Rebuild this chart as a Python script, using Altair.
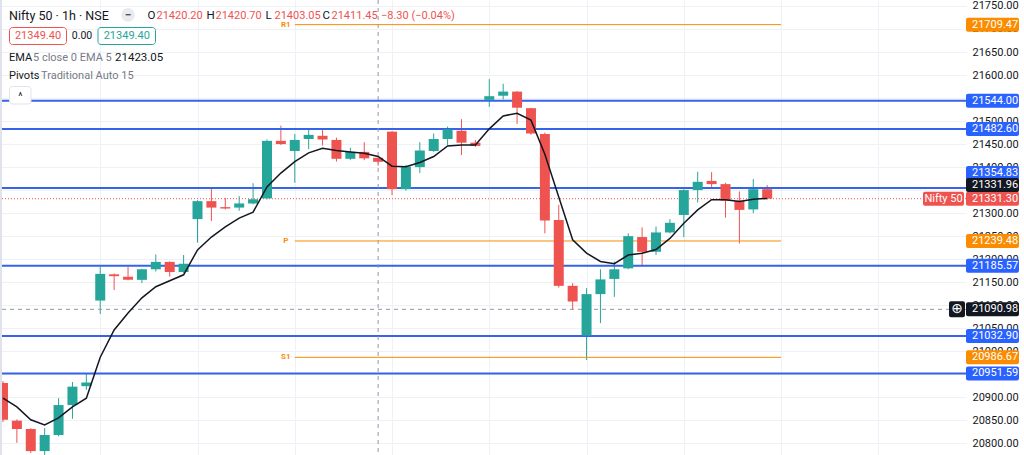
import altair as alt
import pandas as pd

# ---------------- data ----------------
bar_index = list(range(-1, 55))
opens = [20931, 20849, 20831, 20783, 20818, 20883, 20924, 21110, 21167, 21162,
         21155, 21178, 21194, 21172, 21287, 21326, 21313, 21312, 21321, 21332,
         21457, 21435, 21461, 21468, 21459, 21418, 21433, 21420.20, 21477, 21352,
         21400, 21435, 21461, 21479, 21453, 21546, 21555, 21564, 21528, 21472,
         21285, 21142, 21034, 21124, 21157, 21180, 21248, 21216, 21258, 21296,
         21350, 21370, 21363, 21327, 21308, 21352]
highs = [20935, 20852, 20833, 20833, 20898, 20933, 20950, 21183, 21169, 21183,
         21179, 21210, 21195, 21209, 21328, 21354, 21333, 21337, 21365, 21460,
         21490, 21472, 21481, 21481, 21464, 21442, 21454, 21420.70, 21478, 21405,
         21454, 21473, 21488, 21504, 21459, 21591, 21581, 21565, 21529, 21475,
         21318, 21148, 21137, 21178, 21195, 21256, 21269, 21271, 21287, 21352,
         21390, 21389, 21366, 21347, 21374, 21361]
lows = [20846, 20801, 20779, 20768, 20815, 20853, 20916, 21081, 21133, 21154,
        21148, 21173, 21162, 21170, 21236, 21283, 21308, 21305, 21319, 21330,
        21448, 21366, 21439, 21447, 21412, 21415, 21415, 21403.05, 21339, 21349,
        21387, 21433, 21448, 21426, 21444, 21531, 21547, 21494, 21470, 21256,
        21138, 21090, 20981, 21061, 21118, 21178, 21184, 21209, 21256, 21248,
        21323, 21357, 21290, 21234, 21300, 21330]
closes = [20851, 20831, 20783, 20818, 20883, 20923, 20932, 21168, 21163, 21155,
          21178, 21194, 21172, 21190, 21326, 21312, 21310, 21321, 21330, 21457,
          21450, 21459, 21470, 21460, 21418, 21433, 21419, 21411.45, 21352, 21401,
          21436, 21461, 21482, 21453, 21446, 21554, 21564, 21529, 21473, 21284,
          21142, 21108, 21124, 21156, 21178, 21250, 21216, 21258, 21279, 21350,
          21368, 21363, 21327, 21307, 21352, 21331.30]
ema5 = [20898, 20879, 20851, 20840, 20855, 20879, 20898, 20987, 21046, 21083,
        21116, 21140, 21153, 21166, 21220, 21248, 21270, 21289, 21302, 21357,
        21387, 21412, 21431, 21441, 21436, 21433, 21430, 21423.05, 21402, 21401,
        21410, 21423, 21446, 21448, 21448, 21483, 21511, 21517, 21502, 21428,
        21335, 21242, 21213, 21195, 21190, 21209, 21213, 21221, 21245, 21278,
        21307, 21329, 21329, 21325, 21330, 21331.96]

level_prices = [21544.00, 21482.60, 21354.83, 21185.57, 21032.90, 20951.59]
pivot_names = ["R1", "P", "S1"]
pivot_prices = [21709.47, 21239.48, 20986.67]
pivot_from, pivot_to = 20, 55
axis_ticks = [20800, 20850, 20900, 20950, 21000, 21050, 21100, 21150, 21200, 21250,
              21300, 21350, 21400, 21450, 21500, 21550, 21600, 21650, 21700, 21750]
grid_bars = [6, 13, 20, 27, 34, 41, 48, 55, 62]
last_price = 21331.30
ema_last = 21331.96
cross_bar = 26
cross_price = 21090.98
ohlc_letters = ["O", "H", "L", "C"]
ohlc_values = ["21420.20", "21420.70", "21403.05", "21411.45"]
change_text = "−8.30 (−0.04%)"
bid_text, spread_text, ask_text = "21349.40", "0.00", "21349.40"
ema_value_text = "21423.05"

# ---------------- styles ----------------
FONT = "Roboto"
UP, DOWN = "#26a69a", "#ef5350"
BLUE, ORANGE, INK, GRID = "#2962ff", "#fb8c00", "#131722", "#eef1f6"
LINE_BLUE = "#3563e9"
GRAY_TXT = "#787b86"

xs = alt.Scale(domain=[-0.855, 67.95], nice=False, zero=False)
ys = alt.Scale(domain=[20774.5, 21763.0], nice=False, zero=False)

X_AXIS = alt.Axis(values=grid_bars, grid=True, gridColor=GRID, labels=False, ticks=False,
                  domain=False, title=None)
Y_AXIS = alt.Axis(orient="right", values=axis_ticks, format=".2f", grid=True, gridColor=GRID,
                  ticks=False, domain=False, title=None, labelPadding=6, labelFont=FONT,
                  labelFontSize=11, labelColor=INK)


def X(field):
    return alt.X(field, scale=xs, axis=X_AXIS)


def Y(field):
    return alt.Y(field, scale=ys, axis=Y_AXIS)


df = pd.DataFrame(dict(i=bar_index, open=opens, high=highs, low=lows, close=closes, ema=ema5))
candle_color = alt.condition("datum.close >= datum.open", alt.value(UP), alt.value(DOWN))

wicks = alt.Chart(df).mark_rule(strokeWidth=1).encode(
    x=X("i:Q"), y=Y("low:Q"), y2="high:Q", color=candle_color)
bodies = alt.Chart(df).mark_bar(size=10).encode(
    x=X("i:Q"), y=Y("open:Q"), y2="close:Q", color=candle_color)
ema_line = alt.Chart(df).mark_line(color=INK, strokeWidth=1.5).encode(x=X("i:Q"), y=Y("ema:Q"))

levels_df = pd.DataFrame({"price": level_prices})
levels = alt.Chart(levels_df).mark_rule(color=LINE_BLUE, strokeWidth=2).encode(y=Y("price:Q"))

piv_df = pd.DataFrame({"name": pivot_names, "price": pivot_prices,
                       "a": [pivot_from] * 3, "b": [pivot_to] * 3})
piv_lines = alt.Chart(piv_df).mark_rule(color=ORANGE, strokeWidth=1).encode(
    x=X("a:Q"), x2="b:Q", y=Y("price:Q"))
piv_text = alt.Chart(piv_df).mark_text(color=ORANGE, font=FONT, fontSize=8, fontWeight="bold",
                                       align="center", baseline="middle", dx=-9).encode(
    x=X("a:Q"), y=Y("price:Q"), text="name:N")

last_df = pd.DataFrame({"price": [last_price]})
last_line = alt.Chart(last_df).mark_rule(color=DOWN, strokeWidth=1, strokeDash=[1, 2]).encode(
    y=Y("price:Q"))

cross_v = alt.Chart(pd.DataFrame({"i": [cross_bar]})).mark_rule(
    color="#9598a1", strokeWidth=1, strokeDash=[4, 4]).encode(x=X("i:Q"))
cross_h = alt.Chart(pd.DataFrame({"price": [cross_price]})).mark_rule(
    color="#9598a1", strokeWidth=1, strokeDash=[4, 4]).encode(y=Y("price:Q"))

# price labels on the axis
kind_scale = alt.Scale(domain=["pivot", "level", "ema", "cross", "last"],
                       range=[ORANGE, BLUE, INK, INK, DOWN])


def axis_tags(prices, kinds, shift=0):
    d = pd.DataFrame({"price": prices, "kind": kinds})
    box = alt.Chart(d).mark_rect(yOffset=-7 + shift, y2Offset=7 + shift, cornerRadius=2).encode(
        x=alt.value(966), x2=alt.value(1019),
        y=Y("price:Q"), y2="price:Q",
        color=alt.Color("kind:N", scale=kind_scale, legend=None))
    lab = alt.Chart(d).mark_text(align="left", baseline="middle", font=FONT, fontSize=11,
                                 color="white", dy=shift).encode(
        x=alt.value(972), y=Y("price:Q"),
        text=alt.Text("price:Q", format=".2f"))
    return [box, lab]


tags = []
tags += axis_tags(pivot_prices, ["pivot"] * 3)
tags += axis_tags([level_prices[0], level_prices[1], level_prices[3], level_prices[4], level_prices[5]],
                  ["level"] * 5)
tags += axis_tags([cross_price], ["cross"])
tags += axis_tags([last_price], ["last"])
tags += axis_tags([level_prices[2]], ["level"], shift=-15)
tags += axis_tags([ema_last], ["ema"], shift=-13.5)

# "Nifty 50" tag at the last price
nifty_box = alt.Chart(last_df).mark_rect(yOffset=-7, y2Offset=7, cornerRadius=2, color=DOWN).encode(
    x=alt.value(923), x2=alt.value(964), y=Y("price:Q"), y2="price:Q")
nifty_txt = alt.Chart(pd.DataFrame({"price": [last_price], "t": ["Nifty 50"]})).mark_text(
    align="center", baseline="middle", font=FONT, fontSize=11, color="white").encode(
    x=alt.value(943.5), y=Y("price:Q"), text="t:N")

cross_df = pd.DataFrame({"price": [cross_price], "t": ["⊕"]})
plus_box = alt.Chart(cross_df).mark_rect(yOffset=-8, y2Offset=8, cornerRadius=2, color=INK).encode(
    x=alt.value(949), x2=alt.value(965), y=Y("price:Q"), y2="price:Q")
plus_txt = alt.Chart(cross_df).mark_text(align="center", baseline="middle", fontSize=14,
                                         color="white", font="DejaVu Sans").encode(
    x=alt.value(957), y=Y("price:Q"), text="t:N")


# ---------------- header overlay ----------------
def txt(s, x, y, color, size=11, weight="normal", align="left", font=FONT):
    return alt.Chart(pd.DataFrame({"t": [s]})).mark_text(
        align=align, baseline="middle", font=font, fontSize=size, color=color,
        fontWeight=weight).encode(x=alt.value(x), y=alt.value(y), text="t:N")


def box(x, x2, y, y2, stroke, fill="white", r=3):
    return alt.Chart(pd.DataFrame({"k": [0]})).mark_rect(
        fill=fill, stroke=stroke, strokeWidth=1, cornerRadius=r).encode(
        x=alt.value(x), x2=alt.value(x2), y=alt.value(y), y2=alt.value(y2))


header = [
    txt("Nifty 50 · 1h · NSE", 9, 16, INK, size=12.5),
    alt.Chart(pd.DataFrame({"k": [0]})).mark_point(shape="circle", filled=True, size=190,
                                                     color="#e9ebf0", opacity=1).encode(
        x=alt.value(128), y=alt.value(15)),
    txt("−", 128, 15, "#50535e", size=12, weight="bold", align="center"),
]
ohlc_x = [147.5, 206.5, 265.5, 322.5]
for letter, val, xx in zip(ohlc_letters, ohlc_values, ohlc_x):
    header.append(txt(letter, xx, 16, INK, size=11.5))
    header.append(txt(val, xx + 9, 16, DOWN, size=11))
header.append(txt(change_text, 381, 16, DOWN, size=11))
header += [
    box(9.5, 66.5, 27.5, 44.5, DOWN),
    txt(bid_text, 38, 36, DOWN, size=11, align="center"),
    txt(spread_text, 82, 36, INK, size=10.5, align="center"),
    box(98, 155.5, 27.5, 44.5, UP),
    txt(ask_text, 126.75, 36, UP, size=11, align="center"),
    txt("EMA", 9, 58, INK, size=11),
    txt("5 close 0 EMA 5", 33, 58, GRAY_TXT, size=11),
    txt(ema_value_text, 115, 58, INK, size=11.5),
    txt("Pivots", 9, 76, INK, size=11),
    txt("Traditional Auto 15", 41, 76, GRAY_TXT, size=11),
    box(9.5, 31, 86.5, 104, "#e0e3eb", r=3),
    txt("^", 20.25, 97, INK, size=10, align="center"),
]

frame = [
    alt.Chart(pd.DataFrame({"k": [0]})).mark_rule(color="#e0e3eb", strokeWidth=2).encode(
        x=alt.value(1), y=alt.value(0), y2=alt.value(455)),
]

layers = [wicks, levels, piv_lines, piv_text, last_line, cross_v, cross_h,
          bodies, ema_line, nifty_box, nifty_txt, plus_box, plus_txt] + tags + header + frame

chart = alt.layer(*layers).properties(
    width=966, height=455,
    autosize=alt.AutoSizeParams(type="none"),
    padding={"left": 0, "top": 0, "right": 58, "bottom": 0},
    background="white",
).configure_view(stroke=None)

chart.save("out.html", embed_options={"renderer": "svg", "actions": False})
